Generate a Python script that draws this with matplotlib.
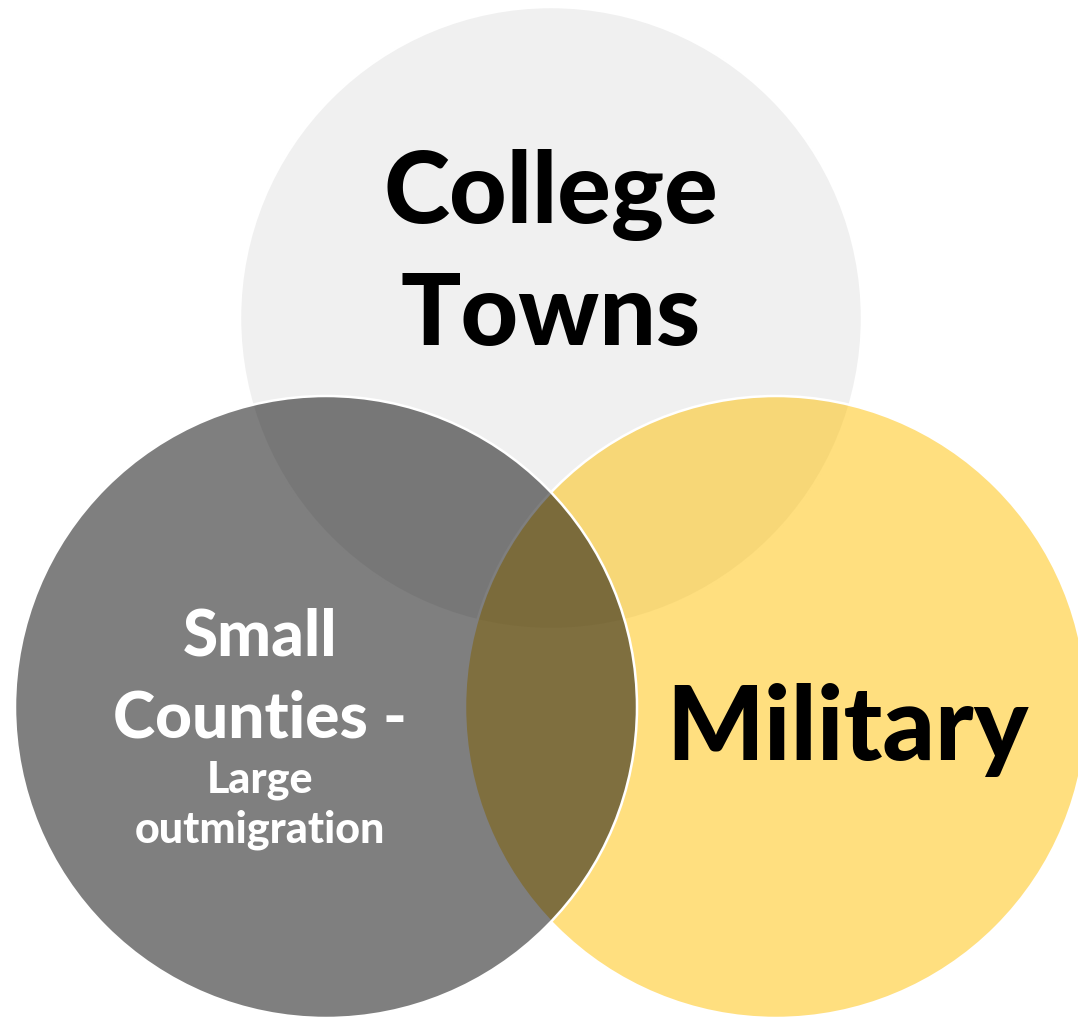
import matplotlib
matplotlib.use("Agg")
import matplotlib.pyplot as plt
from matplotlib.patches import Circle

# ---- data ----
set_names = ["College Towns", "Military", "Small Counties"]
set_colors = ["#F0F0F0", "#FFC000", "#000000"]
set_alphas = [1.0, 0.5, 0.5]
title_lines = {
    "College Towns": ["College", "Towns"],
    "Military": ["Military"],
    "Small Counties": ["Small", "Counties -"],
}
sub_lines = ["Large", "outmigration"]

# ---- layout ----
W, H = 1078, 1019
fig = plt.figure(figsize=(W / 100, H / 100), dpi=100)
ax = fig.add_axes([0, 0, 1, 1])
ax.set_xlim(0, W)
ax.set_ylim(H, 0)
ax.axis("off")

centers = {"College Towns": (551, 318), "Military": (776, 707), "Small Counties": (326, 707)}
radius = 311
draw_order = ["College Towns", "Military", "Small Counties"]
for name in draw_order:
    i = set_names.index(name)
    r, g, b, _ = matplotlib.colors.to_rgba(set_colors[i])
    ax.add_patch(Circle(centers[name], radius, facecolor=(r, g, b, set_alphas[i]),
                        edgecolor="white", linewidth=1.8, zorder=i + 1))

fam = ["Lato", "DejaVu Sans"]
wt = "black"
# College Towns
for txt, y in zip(title_lines["College Towns"], [223, 345]):
    ax.text(551, y, txt, ha="center", va="baseline", fontsize=72, fontweight=wt,
            family=fam, color="black", zorder=10)
# Military
ax.text(847, 760, title_lines["Military"][0], ha="center", va="baseline", fontsize=74,
        fontweight=wt, family=fam, color="black", zorder=10)
# Small Counties
for txt, y in zip(title_lines["Small Counties"], [655, 737]):
    ax.text(260, y, txt, ha="center", va="baseline", fontsize=46, fontweight=wt,
            family=fam, color="white", zorder=10)
for txt, y in zip(sub_lines, [792, 842]):
    ax.text(260, y, txt, ha="center", va="baseline", fontsize=31, fontweight=wt,
            family=fam, color="white", zorder=10)

fig.savefig("out.png", dpi=100)
